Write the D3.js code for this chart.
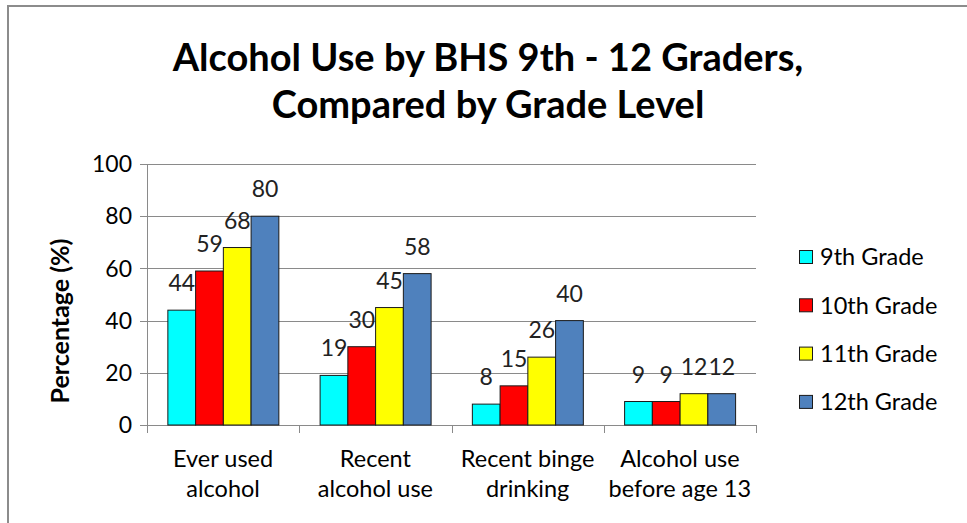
<!DOCTYPE html>
<html lang="en">
<head>
    <meta charset="UTF-8">
    <title>Alcohol Use by BHS 9th - 12 Graders</title>
    <script src="https://cdnjs.cloudflare.com/ajax/libs/d3/7.8.5/d3.min.js"></script>
    <style>
        html, body {
            margin: 0;
            padding: 0;
            background: #fff;
        }
        #chart text {
            font-family: Lato, "Open Sans", sans-serif;
            fill: #000;
        }
    </style>
</head>
<body>
<div id="chart"></div>

<script>
    // data
    var categories = [
        ["Ever used", "alcohol"],
        ["Recent", "alcohol use"],
        ["Recent binge", "drinking"],
        ["Alcohol use", "before age 13"]
    ];
    var grades = ["9th Grade", "10th Grade", "11th Grade", "12th Grade"];
    var grade9 = [44, 19, 8, 9];
    var grade10 = [59, 30, 15, 9];
    var grade11 = [68, 45, 26, 12];
    var grade12 = [80, 58, 40, 12];
    var yTicks = [0, 20, 40, 60, 80, 100];
    var colors = ["#00ffff", "#ff0000", "#ffff00", "#4f81bd"];

    var series = [grade9, grade10, grade11, grade12];

    var W = 967, H = 523;
    // plot box (note: "top" is taken by window.top, so use other names)
    var plotL = 147, plotR = 756, plotT = 164, plotB = 425;

    var svg = d3.select("#chart").append("svg")
        .attr("width", W)
        .attr("height", H);

    // frame (only left + top visible in the reference)
    svg.append("line").attr("x1", 8).attr("x2", 8).attr("y1", 5).attr("y2", H)
        .attr("stroke", "#8c8c8c").attr("stroke-width", 2);
    svg.append("line").attr("x1", 7).attr("x2", W).attr("y1", 6).attr("y2", 6)
        .attr("stroke", "#8c8c8c").attr("stroke-width", 2);

    // title
    var title = svg.append("text")
        .attr("text-anchor", "middle")
        .style("font-weight", "bold")
        .style("font-size", "38px");
    title.append("tspan").attr("x", 488).attr("y", 71).text("Alcohol Use by BHS 9th - 12 Graders,");
    title.append("tspan").attr("x", 488).attr("y", 118).text("Compared by Grade Level");

    var x = d3.scaleBand()
        .domain(d3.range(categories.length))
        .range([plotL, plotR]);

    var bw = x.bandwidth();
    var xInner = d3.scaleBand()
        .domain(d3.range(grades.length))
        .range([bw * 0.137, bw * 0.866]);

    var y = d3.scaleLinear()
        .domain([0, 100])
        .range([plotB, plotT]);

    // gridlines
    svg.append("g")
        .selectAll("line")
        .data(yTicks)
        .enter()
        .append("line")
        .attr("x1", plotL - 7)
        .attr("x2", plotR)
        .attr("y1", function (d) { return Math.round(y(d)) + 0.5; })
        .attr("y2", function (d) { return Math.round(y(d)) + 0.5; })
        .attr("stroke", "#8a8a8a")
        .attr("stroke-width", 1);

    // y tick labels
    svg.append("g")
        .selectAll("text")
        .data(yTicks)
        .enter()
        .append("text")
        .attr("x", plotL - 15)
        .attr("y", function (d) { return y(d); })
        .attr("dy", "0.36em")
        .attr("text-anchor", "end")
        .style("font-size", "23px")
        .text(function (d) { return d; });

    // y axis line
    svg.append("line")
        .attr("x1", plotL + 0.5).attr("x2", plotL + 0.5)
        .attr("y1", plotT).attr("y2", plotB + 8)
        .attr("stroke", "#8a8a8a");

    // x tick marks at band edges
    var edges = d3.range(categories.length + 1).map(function (i) {
        return i < categories.length ? x(i) : plotR;
    });
    svg.append("g")
        .selectAll("line")
        .data(edges)
        .enter()
        .append("line")
        .attr("x1", function (d) { return Math.round(d) + 0.5; })
        .attr("x2", function (d) { return Math.round(d) + 0.5; })
        .attr("y1", plotB)
        .attr("y2", plotB + 8)
        .attr("stroke", "#8a8a8a");

    // bars
    var groups = svg.append("g")
        .selectAll("g")
        .data(series)
        .enter()
        .append("g")
        .attr("fill", function (d, i) { return colors[i]; });

    groups.each(function (vals, si) {
        d3.select(this).selectAll("rect")
            .data(vals)
            .enter()
            .append("rect")
            .attr("x", function (d, ci) { return x(ci) + xInner(si); })
            .attr("y", function (d) { return y(d); })
            .attr("width", xInner.bandwidth())
            .attr("height", function (d) { return y(0) - y(d); })
            .attr("stroke", "#1a1a1a")
            .attr("stroke-width", 1);
    });

    // value labels (drawn after all bars so they sit on top)
    var labels = svg.append("g");
    series.forEach(function (vals, si) {
        labels.selectAll("text.s" + si)
            .data(vals)
            .enter()
            .append("text")
            .attr("class", "s" + si)
            .attr("x", function (d, ci) { return x(ci) + xInner(si) + xInner.bandwidth() / 2; })
            .attr("y", function (d) { return y(d) - 19; })
            .attr("text-anchor", "middle")
            .style("font-size", "23px")
            .style("fill", "#222")
            .text(function (d) { return d; });
    });

    // category labels
    var cat = svg.append("g")
        .selectAll("text")
        .data(categories)
        .enter()
        .append("text")
        .attr("text-anchor", "middle")
        .style("font-size", "23.5px");
    cat.append("tspan")
        .attr("x", function (d, i) { return x(i) + bw / 2; })
        .attr("y", 467)
        .text(function (d) { return d[0]; });
    cat.append("tspan")
        .attr("x", function (d, i) { return x(i) + bw / 2; })
        .attr("y", 497)
        .text(function (d) { return d[1]; });

    // y axis title
    svg.append("text")
        .attr("transform", "translate(69,321) rotate(-90)")
        .attr("text-anchor", "middle")
        .style("font-weight", "bold")
        .style("font-size", "25px")
        .text("Percentage (%)");

    // legend
    var legend = svg.append("g")
        .selectAll("g")
        .data(grades)
        .enter()
        .append("g")
        .attr("transform", function (d, i) { return "translate(799," + (257 + i * 48.3) + ")"; });
    legend.append("rect")
        .attr("x", 0.5).attr("y", -6.5)
        .attr("width", 13).attr("height", 13)
        .attr("fill", function (d, i) { return colors[i]; })
        .attr("stroke", "#1a1a1a");
    legend.append("text")
        .attr("x", 21)
        .attr("y", 0)
        .attr("dy", "0.36em")
        .style("font-size", "23.5px")
        .text(function (d) { return d; });
</script>
</body>
</html>
